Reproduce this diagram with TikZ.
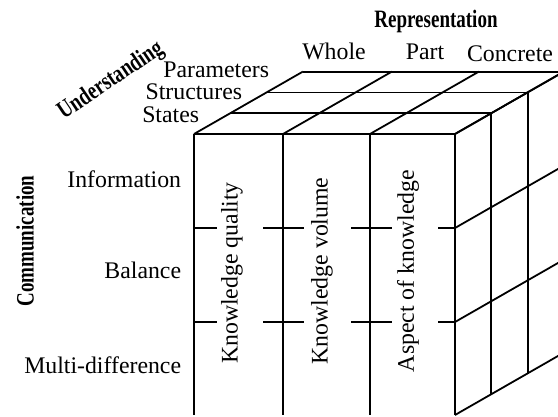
\documentclass[tikz,border=0pt]{standalone}
\usepackage{fontspec}
\setmainfont{Liberation Serif}
\newcommand{\headtext}[1]{\scalebox{0.76}[1]{#1}}
\begin{document}
\begin{tikzpicture}[x=1pt,y=-1pt,line width=1.8pt,
  lbl/.style={font=\fontsize{23.8}{28}\selectfont,inner sep=0pt},
  head/.style={font=\fontsize{25}{28}\selectfont\bfseries,inner sep=0pt},
  gridline/.style={draw=black,line width=1.8pt}]
\useasboundingbox (0,0) rectangle (558,416);
% grid coordinates
\foreach \i/\x in {0/194,1/283,2/370,3/455}{
  \foreach \j/\y in {0/134,1/228,2/322,3/415}{
    \coordinate (F\i\j) at (\x,\y);
  }
  \foreach \k in {0,1,2,3}{
    \coordinate (T\i\k) at ({\x+36.3*\k},{134-20.8*\k});
  }
}
\foreach \j/\y in {0/134,1/228,2/322,3/415}{
  \foreach \k in {0,1,2,3}{
    \coordinate (R\j\k) at ({455+36.3*\k},{\y-20.8*\k});
  }
}
% front face
\foreach \i in {0,1,2,3}{ \draw[gridline] (F\i0) -- (F\i3); }
\draw[gridline] (F00) -- (F30);
% broken horizontal lines on the front face
\foreach \y in {228,322}{
  \coordinate (a1) at (194,\y); \coordinate (a2) at (217,\y);
  \coordinate (b1) at (263,\y); \coordinate (b2) at (304,\y);
  \coordinate (c1) at (351,\y); \coordinate (c2) at (392,\y);
  \coordinate (d1) at (438,\y); \coordinate (d2) at (455,\y);
  \draw[gridline] (a1) -- (a2);
  \draw[gridline] (b1) -- (b2);
  \draw[gridline] (c1) -- (c2);
  \draw[gridline] (d1) -- (d2);
}
% top face
\foreach \k in {1,2,3}{ \draw[gridline] (T0\k) -- (T3\k); }
\foreach \i in {0,1,2,3}{ \draw[gridline] (T\i0) -- (T\i3); }
% right face
\foreach \k in {1,2,3}{ \draw[gridline] (R0\k) -- (R3\k); }
\foreach \j in {0,1,2,3}{ \draw[gridline] (R\j0) -- (R\j3); }

% headings
\node[head,anchor=base] (rep) at (436,27) {\headtext{Representation}};
\node[head,rotate=34] (und) at (111,81) {\headtext{Understanding}};
\node[head,rotate=90] (com) at (25,241) {\headtext{Communication}};
% top labels
\node[lbl,anchor=base] (whole) at (334,59) {Whole};
\node[lbl,anchor=base] (part) at (425,59) {Part};
\node[lbl,anchor=base] (conc) at (510,61) {Concrete};
% depth labels
\node[lbl,anchor=base east] (par) at (270,77) {Parameters};
\node[lbl,anchor=base east] (str) at (243,99) {Structures};
\node[lbl,anchor=base east] (sta) at (200,122) {States};
% row labels
\node[lbl,anchor=base east] (inf) at (182,187) {Information};
\node[lbl,anchor=base east] (bal) at (182,278) {Balance};
\node[lbl,anchor=base east] (mul) at (182,373) {Multi-difference};
% column texts
\node[lbl,rotate=90] (kq) at (232,273) {Knowledge quality};
\node[lbl,rotate=90] (kv) at (322,271) {Knowledge volume};
\node[lbl,rotate=90] (ak) at (408,271) {Aspect of knowledge};
\end{tikzpicture}
\end{document}
